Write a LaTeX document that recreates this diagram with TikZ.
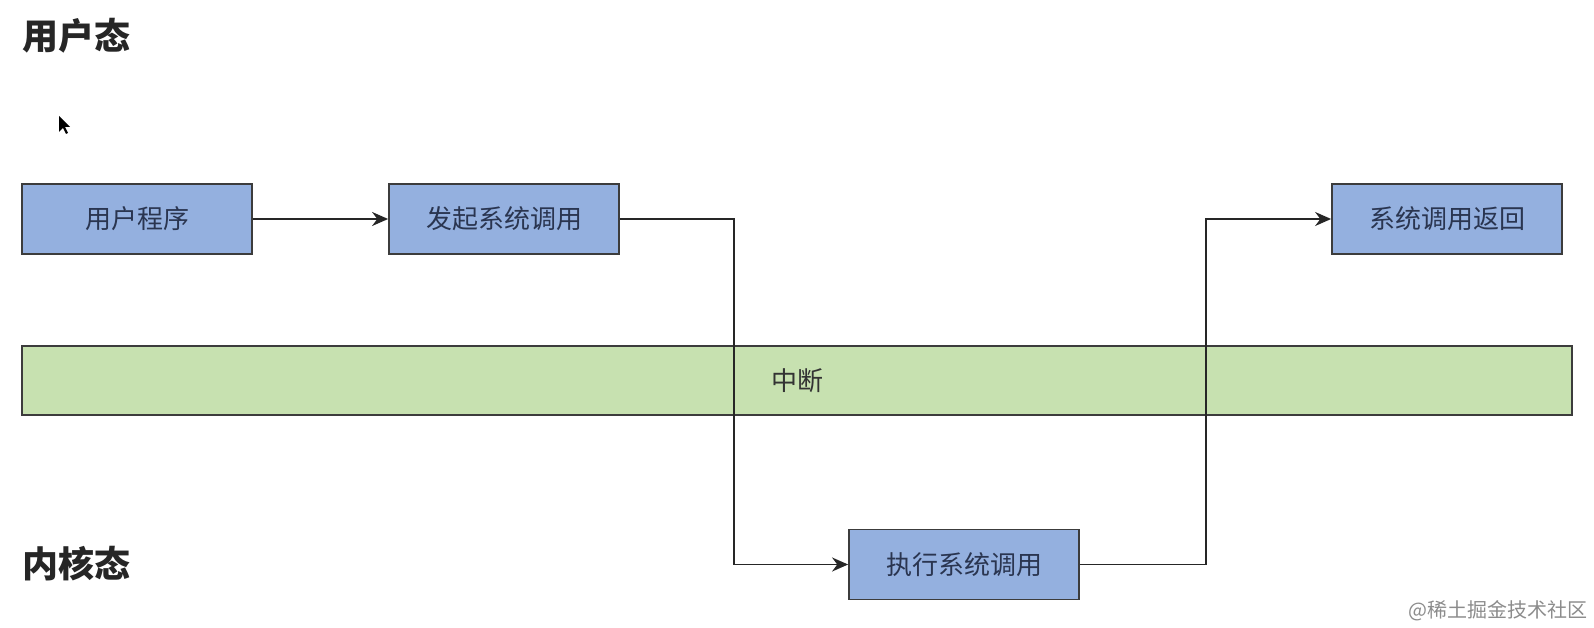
\documentclass[tikz,border=0pt]{standalone}
\usepackage{fontspec}
\setmainfont{Noto Sans CJK SC}
\usetikzlibrary{arrows.meta}
\definecolor{boxblue}{HTML}{94B0DF}
\definecolor{boxgreen}{HTML}{C7E1B0}
\definecolor{edge}{HTML}{3C3C3C}
\definecolor{boxtext}{HTML}{2A3550}
\tikzset{
  bluebox/.style={draw=edge, line width=1.8pt, fill=boxblue, minimum width=230pt, minimum height=70pt, inner sep=0pt, font=\fontsize{26}{26}\selectfont, text=boxtext},
  greenbar/.style={draw=edge, line width=1.8pt, fill=boxgreen, minimum width=1550pt, minimum height=69pt, inner sep=0pt, font=\fontsize{26}{26}\selectfont, text=black!80},
  heading/.style={font=\fontsize{36}{36}\selectfont\bfseries, text=black!85, anchor=west, inner sep=0pt},
  conn/.style={draw=black!85, line width=1.8pt, -{Stealth[length=16pt,width=14pt]}}
}
\begin{document}
\begin{tikzpicture}[x=1pt,y=-1pt]
\useasboundingbox[fill=white] (0,0) rectangle (1594,628);
\node[heading] (user) at (22,36) {用户态};
\node[heading] (kernel) at (22,564) {内核态};
\node[greenbar] (irq) at (797,380.5) {中断};
\node[bluebox] (prog) at (137,219) {用户程序};
\node[bluebox] (call) at (504,219) {发起系统调用};
\node[bluebox] (ret) at (1447,219) {系统调用返回};
\node[bluebox] (exec) at (964,564.5) {执行系统调用};
\draw[conn] (prog.east) -- (call.west);
\draw[conn] (call.east) -| (734,400) |- (exec.west);
\draw[conn] (exec.east) -| (1206,400) |- (ret.west);
\node[anchor=east, inner sep=0pt, font=\fontsize{20}{20}\selectfont, text=black!45] (wm) at (1588,611) {@稀土掘金技术社区};
\fill[black] (59,116) coordinate (cur) -- ++(0,16) -- ++(4,-4) -- ++(3,6) -- ++(2,-1) -- ++(-3,-6) -- ++(5,0) -- cycle;
\end{tikzpicture}
\end{document}
